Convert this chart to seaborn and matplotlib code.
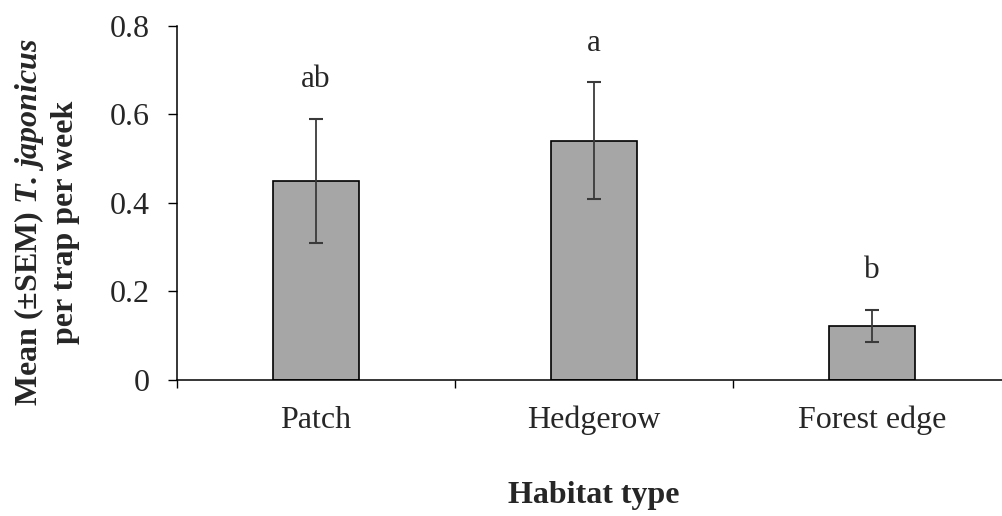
import matplotlib
matplotlib.use("Agg")
import matplotlib.pyplot as plt
import seaborn as sns
import pandas as pd

habitats = ["Patch", "Hedgerow", "Forest edge"]
means = [0.45, 0.54, 0.122]
sems = [0.14, 0.132, 0.037]
letters = ["ab", "a", "b"]
yticks = [0, 0.2, 0.4, 0.6, 0.8]
ytick_labels = ["0", "0.2", "0.4", "0.6", "0.8"]

sns.set_style("ticks")
plt.rcParams["font.family"] = ["Liberation Serif", "DejaVu Serif"]
plt.rcParams["mathtext.fontset"] = "custom"
plt.rcParams["mathtext.rm"] = "Liberation Serif:bold"
plt.rcParams["mathtext.it"] = "Liberation Serif:italic:bold"
plt.rcParams["mathtext.bf"] = "Liberation Serif:bold"

df = pd.DataFrame({"habitat": habitats, "mean": means, "sem": sems})

fig = plt.figure(figsize=(10.03, 5.16), dpi=100)
ax = fig.add_axes([177 / 1003, 136 / 516, (1011 - 177) / 1003, (380 - 25.7) / 516])

sns.barplot(data=df, x="habitat", y="mean", order=habitats, color="#a6a6a6",
            edgecolor="black", linewidth=1.2, width=0.31, errorbar=None,
            saturation=1, ax=ax)

ax.errorbar(range(len(habitats)), df["mean"], yerr=df["sem"], fmt="none",
            ecolor="#3a3a3a", elinewidth=1.3, capsize=4.7, capthick=1.5)

for i, (m, s, lab) in enumerate(zip(means, sems, letters)):
    ax.text(i, m + s + 0.072, lab, ha="center", va="baseline", fontsize=22.5)

ax.set_xlim(-0.5, 2.5)
ax.set_ylim(0, 0.8)
ax.set_yticks(yticks)
ax.set_yticklabels(ytick_labels)
ax.set_xticks([0, 1, 2])
ax.set_xticklabels(habitats)
ax.set_xticks([-0.5, 0.5, 1.5, 2.5], minor=True)
ax.tick_params(axis="x", which="major", length=0, pad=18.5, labelsize=23)
ax.tick_params(axis="x", which="minor", length=6, width=1.0, direction="out", color="black")
ax.tick_params(axis="y", which="major", length=6.5, width=1.0, pad=13, labelsize=23, color="black")
for sp in ["top", "right"]:
    ax.spines[sp].set_visible(False)
for sp in ["left", "bottom"]:
    ax.spines[sp].set_linewidth(1.1)
    ax.spines[sp].set_color("black")
ax.set_xlabel("")
ax.set_ylabel("")

fig.text(46 / 1003, 1 - 222 / 516,
         "Mean (±SEM) $T.\\,japonicus$\nper trap per week",
         rotation=90, ha="center", va="center", multialignment="center",
         fontsize=23, fontweight="bold", linespacing=1.2)
fig.text(594 / 1003, 1 - 495 / 516, "Habitat type", ha="center", va="center",
         fontsize=23, fontweight="bold")

fig.savefig("out.png", dpi=100)
